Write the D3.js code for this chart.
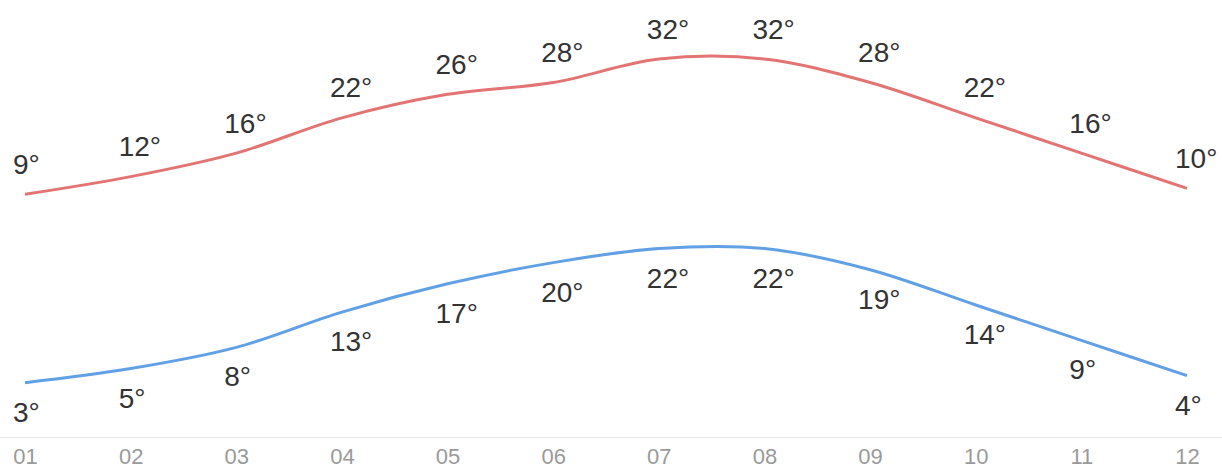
<!DOCTYPE html>
<html>
<head>
<meta charset="utf-8">
<script src="https://cdn.jsdelivr.net/npm/d3@7"></script>
<style>
  html, body { margin: 0; padding: 0; background: #fff; }
  svg { display: block; }
  text { font-family: "Liberation Sans", Arial, sans-serif; }
</style>
</head>
<body>
<svg id="chart" width="1222" height="474"></svg>
<script>
const months = ["01","02","03","04","05","06","07","08","09","10","11","12"];
const highs = [9, 12, 16, 22, 26, 28, 32, 32, 28, 22, 16, 10];
const lows  = [3, 5, 8, 13, 17, 20, 22, 22, 19, 14, 9, 4];

const W = 1222, H = 474;
const svg = d3.select("#chart");

const x = d3.scalePoint().domain(months).range([25, 1187]);
const yHigh = d3.scaleLinear().domain(d3.extent(highs)).range([194.3, 59]);
const yLow  = d3.scaleLinear().domain(d3.extent(lows)).range([382.7, 248.5]);

// x axis
const axisY = 437.5;
const axis = d3.axisBottom(x).tickSize(0).tickPadding(0);
const gAxis = svg.append("g").attr("transform", `translate(0,${axisY})`).call(axis);
gAxis.select(".domain").remove();
gAxis.selectAll("text")
  .attr("y", 26)
  .attr("dy", null)
  .style("font-size", "22px")
  .style("font-family", "'Liberation Sans', Arial, sans-serif")
  .attr("fill", "#9a9a9a");
svg.append("line")
  .attr("x1", 0).attr("x2", W)
  .attr("y1", axisY).attr("y2", axisY)
  .attr("stroke", "#e6e6e6").attr("stroke-width", 1);

const curve = d3.curveCardinal.tension(0);

function drawSeries(values, yScale, color, labelDy) {
  const line = d3.line()
    .x((d, i) => x(months[i]))
    .y(d => yScale(d))
    .curve(curve);
  svg.append("path")
    .datum(values)
    .attr("d", line)
    .attr("fill", "none")
    .attr("stroke", color)
    .attr("stroke-width", 3)
    .attr("stroke-linejoin", "round")
    .attr("stroke-linecap", "butt");
  svg.append("g").selectAll("text")
    .data(values)
    .join("text")
    .attr("x", (d, i) => x(months[i]) - 12)
    .attr("y", d => yScale(d) + labelDy)
    .attr("text-anchor", "start")
    .style("font-size", "28px")
    .attr("fill", "#333333")
    .text(d => d + "\u00B0");
}

drawSeries(highs, yHigh, "#e27474", -20.5);
drawSeries(lows, yLow, "#62a0e6", 39);
</script>
</body>
</html>
